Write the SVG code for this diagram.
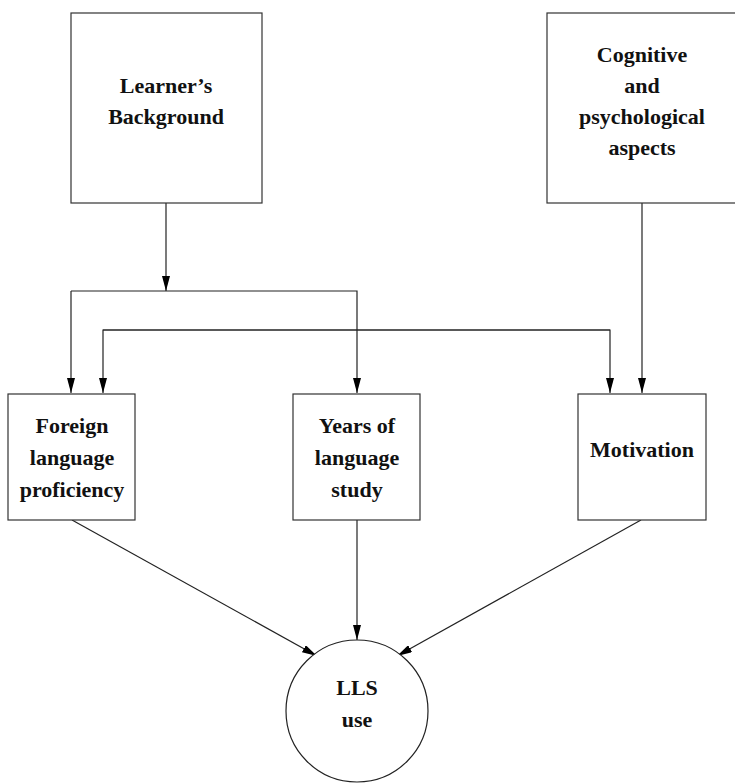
<svg xmlns="http://www.w3.org/2000/svg" width="735" height="783" viewBox="0 0 735 783">
<style>
.box{fill:#fff;stroke:#333;stroke-width:1.2}
.ln{fill:none;stroke:#222;stroke-width:1.2}
text{font-family:"Liberation Serif","Times New Roman",serif;font-weight:bold;font-size:22px;fill:#111;text-anchor:middle}
</style>
<defs>
<marker id="ah" viewBox="0 0 15 8" refX="15" refY="4" markerWidth="15" markerHeight="8" markerUnits="userSpaceOnUse" orient="auto">
<path d="M0,0 L15,4 L0,8 Z" fill="#000"/>
</marker>
</defs>
<rect width="735" height="783" fill="#fff"/>
<g id="connectors">
<path class="ln" d="M166,203 V291" marker-end="url(#ah)"/>
<path class="ln" d="M71,291 H357 V393" marker-end="url(#ah)"/>
<path class="ln" d="M71,291 V393" marker-end="url(#ah)"/>
<path class="ln" d="M610,330 H103 V393" marker-end="url(#ah)"/>
<path class="ln" d="M103,330 H610 V393" marker-end="url(#ah)"/>
<path class="ln" d="M642,203 V393" marker-end="url(#ah)"/>
<path class="ln" d="M72,520 L317,656" marker-end="url(#ah)"/>
<path class="ln" d="M357,520 V640" marker-end="url(#ah)"/>
<path class="ln" d="M641,520 L397,656" marker-end="url(#ah)"/>
</g>
<g id="learners-background">
<rect class="box" x="71" y="13" width="191" height="190"/>
<text x="166" y="93">Learner’s</text>
<text x="166" y="124">Background</text>
</g>
<g id="cognitive">
<rect class="box" x="547" y="13" width="195" height="190"/>
<text x="642" y="62">Cognitive</text>
<text x="642" y="93">and</text>
<text x="642" y="124">psychological</text>
<text x="642" y="155">aspects</text>
</g>
<g id="foreign-language">
<rect class="box" x="8" y="394" width="127" height="126"/>
<text x="72" y="433">Foreign</text>
<text x="72" y="465">language</text>
<text x="72" y="497">proficiency</text>
</g>
<g id="years">
<rect class="box" x="293" y="394" width="127" height="126"/>
<text x="357" y="433">Years of</text>
<text x="357" y="465">language</text>
<text x="357" y="497">study</text>
</g>
<g id="motivation">
<rect class="box" x="578" y="394" width="128" height="126"/>
<text x="642" y="457">Motivation</text>
</g>
<g id="lls-use">
<circle cx="357" cy="711" r="71" fill="#fff" stroke="#222" stroke-width="1.2"/>
<text x="357" y="695">LLS</text>
<text x="357" y="727">use</text>
</g>
</svg>
